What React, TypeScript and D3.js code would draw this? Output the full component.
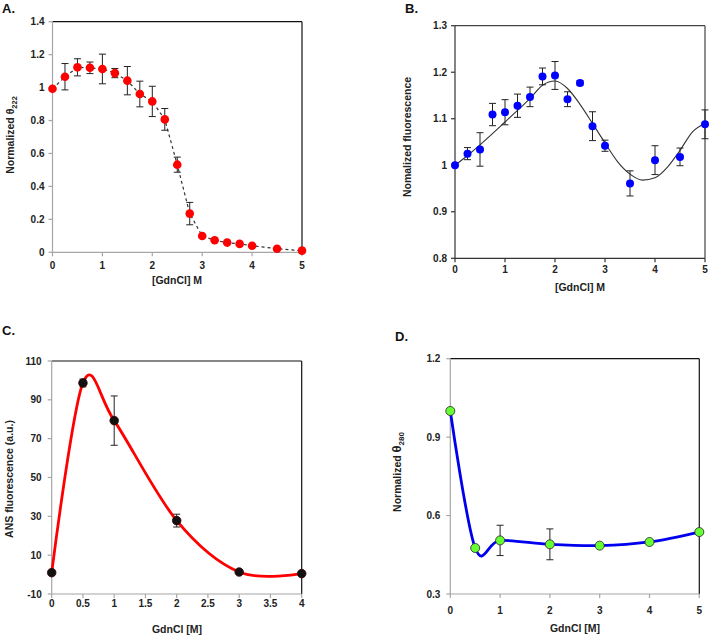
import React from "react";
import * as d3 from "d3";

// ---------- Panel A: CD ellipticity at 222 nm ----------
const concA = [0, 0.25, 0.5, 0.75, 1, 1.25, 1.5, 1.75, 2, 2.25, 2.5, 2.75, 3, 3.25, 3.5, 3.75, 4, 4.5, 5];
const thetaA = [0.993, 1.066, 1.123, 1.12, 1.113, 1.088, 1.042, 0.961, 0.916, 0.807, 0.532, 0.235, 0.099, 0.073, 0.059, 0.051, 0.04, 0.022, 0.01];
const errA = [0, 0.08, 0.052, 0.035, 0.09, 0.028, 0.086, 0.078, 0.092, 0.066, 0.046, 0.068, 0, 0, 0, 0, 0, 0, 0];
const yTicksA = [0, 0.2, 0.4, 0.6, 0.8, 1, 1.2, 1.4];
const xTicksA = [0, 1, 2, 3, 4, 5];

// ---------- Panel B: intrinsic fluorescence ----------
const concB = [0, 0.25, 0.5, 0.75, 1, 1.25, 1.5, 1.75, 2, 2.25, 2.5, 2.75, 3, 3.5, 4, 4.5, 5];
const fluorB = [1.0, 1.025, 1.034, 1.109, 1.114, 1.128, 1.147, 1.191, 1.193, 1.142, 1.177, 1.084, 1.042, 0.961, 1.011, 1.018, 1.088];
const errB = [0, 0.013, 0.036, 0.024, 0.027, 0.025, 0.021, 0.018, 0.03, 0.016, 0.005, 0.031, 0.012, 0.027, 0.031, 0.019, 0.031];
const fitConcB = [0, 0.25, 0.5, 0.75, 1, 1.25, 1.5, 1.75, 2, 2.25, 2.5, 2.75, 3, 3.25, 3.5, 3.75, 4, 4.25, 4.5, 4.75, 5];
const fitB = [1.0, 1.021, 1.044, 1.068, 1.093, 1.118, 1.143, 1.172, 1.181, 1.165, 1.131, 1.09, 1.048, 1.008, 0.981, 0.968, 0.973, 0.996, 1.032, 1.072, 1.09];
const yTicksB = [0.8, 0.9, 1, 1.1, 1.2, 1.3];
const xTicksB = [0, 1, 2, 3, 4, 5];

// ---------- Panel C: ANS fluorescence ----------
const concC = [0, 0.5, 1, 2, 3, 4];
const ansC = [1, 98.7, 79.3, 27.8, 1.3, 0.5];
const errC = [0, 2, 12.7, 3.3, 0, 0];
const yTicksC = [-10, 10, 30, 50, 70, 90, 110];
const xTicksC = [0, 0.5, 1, 1.5, 2, 2.5, 3, 3.5, 4];

// ---------- Panel D: near-UV CD at 280 nm ----------
const concD = [0, 0.5, 1, 2, 3, 4, 5];
const thetaD = [1.0, 0.476, 0.505, 0.49, 0.485, 0.499, 0.537];
const errD = [0, 0, 0.058, 0.059, 0, 0, 0];
const yTicksD = [0.3, 0.6, 0.9, 1.2];
const xTicksD = [0, 1, 2, 3, 4, 5];

const FONT = "'Liberation Sans', Arial, sans-serif";

type PanelProps = {
  x0: number; x1: number; y0: number; y1: number;
  xDomain: [number, number]; yDomain: [number, number];
  xTicks: number[]; yTicks: number[];
  axisColor: string; frameColor: string;
  yLabelGap: number; xLabelY: number;
  children?: (sx: d3.ScaleLinear<number, number>, sy: d3.ScaleLinear<number, number>) => React.ReactNode;
};

function Frame(p: PanelProps) {
  const sx = d3.scaleLinear().domain(p.xDomain).range([p.x0, p.x1]);
  const sy = d3.scaleLinear().domain(p.yDomain).range([p.y0, p.y1]);
  return (
    <g>
      <line x1={p.x0} x2={p.x1} y1={p.y1} y2={p.y1} stroke={p.frameColor} strokeWidth={1.2} />
      <line x1={p.x1} x2={p.x1} y1={p.y1} y2={p.y0} stroke={p.frameColor} strokeWidth={1.2} />
      <line x1={p.x0} x2={p.x0} y1={p.y1} y2={p.y0} stroke={p.axisColor} strokeWidth={1.2} />
      <line x1={p.x0} x2={p.x1} y1={p.y0} y2={p.y0} stroke={p.axisColor} strokeWidth={1.2} />
      {p.yTicks.map((t) => (
        <g key={"y" + t}>
          <line x1={p.x0 - 4} x2={p.x0} y1={sy(t)} y2={sy(t)} stroke={p.axisColor} strokeWidth={1.2} />
          <text x={p.x0 - p.yLabelGap} y={sy(t)} dy="0.35em" textAnchor="end"
            fontFamily={FONT} fontWeight="bold" fontSize={10} fill="#222">{String(t)}</text>
        </g>
      ))}
      {p.xTicks.map((t) => (
        <g key={"x" + t}>
          <line x1={sx(t)} x2={sx(t)} y1={p.y0} y2={p.y0 + 4} stroke={p.axisColor} strokeWidth={1.2} />
          <text x={sx(t)} y={p.xLabelY} textAnchor="middle"
            fontFamily={FONT} fontWeight="bold" fontSize={10} fill="#222">{String(t)}</text>
        </g>
      ))}
      {p.children && p.children(sx, sy)}
    </g>
  );
}

function ErrorBars({ xs, ys, es, sx, sy, cap }: any) {
  return (
    <g>
      {xs.map((x: number, i: number) => es[i] > 0 ? (
        <g key={i} stroke="#222" strokeWidth={1}>
          <line x1={sx(x)} x2={sx(x)} y1={sy(ys[i] - es[i])} y2={sy(ys[i] + es[i])} />
          <line x1={sx(x) - cap} x2={sx(x) + cap} y1={sy(ys[i] - es[i])} y2={sy(ys[i] - es[i])} />
          <line x1={sx(x) - cap} x2={sx(x) + cap} y1={sy(ys[i] + es[i])} y2={sy(ys[i] + es[i])} />
        </g>
      ) : null)}
    </g>
  );
}

export default function App() {
  return (
    <svg width={710} height={637} style={{ position: "absolute", left: 0, top: 0, background: "#fff" }}>
      <rect width={710} height={637} fill="#fff" />

      {/* ---------- A ---------- */}
      <text x={2} y={13} fontFamily={FONT} fontWeight="bold" fontSize={13} fill="#111">A.</text>
      <Frame x0={52.5} x1={302} y0={252.3} y1={21.7} xDomain={[0, 5]} yDomain={[0, 1.4]}
        xTicks={xTicksA} yTicks={yTicksA} axisColor="#a6a6a6" frameColor="#111" yLabelGap={8} xLabelY={268.5}>
        {(sx, sy) => {
          const line = d3.line<number>().x((d, i) => sx(concA[i])).y((d) => sy(d));
          return (
            <g>
              <path d={line(thetaA) || ""} fill="none" stroke="#333" strokeWidth={1.2} strokeDasharray="3,3" />
              <ErrorBars xs={concA} ys={thetaA} es={errA} sx={sx} sy={sy} cap={3.5} />
              {concA.map((x, i) => <circle key={i} cx={sx(x)} cy={sy(thetaA[i])} r={4.3} fill="#ff0000" />)}
            </g>
          );
        }}
      </Frame>
      <text transform="translate(14,135) rotate(-90)" textAnchor="middle" fontFamily={FONT} fontWeight="bold" fontSize={10.5} fill="#222">
        Normalized θ<tspan fontSize={7.5} dy={3}>222</tspan>
      </text>
      <text x={177} y={284} textAnchor="middle" fontFamily={FONT} fontWeight="bold" fontSize={10.5} fill="#222">[GdnCl] M</text>

      {/* ---------- B ---------- */}
      <text x={405} y={13} fontFamily={FONT} fontWeight="bold" fontSize={13} fill="#111">B.</text>
      <Frame x0={455} x1={705} y0={258.3} y1={25.7} xDomain={[0, 5]} yDomain={[0.8, 1.3]}
        xTicks={xTicksB} yTicks={yTicksB} axisColor="#333" frameColor="#444" yLabelGap={8} xLabelY={272.5}>
        {(sx, sy) => {
          const line = d3.line<number>().x((d, i) => sx(fitConcB[i])).y((d) => sy(d)).curve(d3.curveMonotoneX);
          return (
            <g>
              <path d={line(fitB) || ""} fill="none" stroke="#333" strokeWidth={1.1} />
              <ErrorBars xs={concB} ys={fluorB} es={errB} sx={sx} sy={sy} cap={3.5} />
              {concB.map((x, i) => <circle key={i} cx={sx(x)} cy={sy(fluorB[i])} r={4} fill="#0000ff" />)}
            </g>
          );
        }}
      </Frame>
      <text transform="translate(411,137) rotate(-90)" textAnchor="middle" fontFamily={FONT} fontWeight="bold" fontSize={10.5} fill="#222">Nomalized fluorescence</text>
      <text x={580} y={291} textAnchor="middle" fontFamily={FONT} fontWeight="bold" fontSize={10.5} fill="#222">[GdnCl] M</text>

      {/* ---------- C ---------- */}
      <text x={2} y={335} fontFamily={FONT} fontWeight="bold" fontSize={13} fill="#111">C.</text>
      <Frame x0={51.7} x1={301.7} y0={594} y1={361} xDomain={[0, 4]} yDomain={[-10, 110]}
        xTicks={xTicksC} yTicks={yTicksC} axisColor="#a6a6a6" frameColor="#111" yLabelGap={10} xLabelY={607}>
        {(sx, sy) => {
          const line = d3.line<number>().x((d, i) => sx(concC[i])).y((d) => sy(d)).curve(d3.curveCardinal.tension(0));
          return (
            <g>
              <path d={line(ansC) || ""} fill="none" stroke="#ff0000" strokeWidth={2.8} />
              <ErrorBars xs={concC} ys={ansC} es={errC} sx={sx} sy={sy} cap={3.5} />
              {concC.map((x, i) => <circle key={i} cx={sx(x)} cy={sy(ansC[i])} r={4.3} fill="#111" stroke="#3a0000" strokeWidth={0.8} />)}
            </g>
          );
        }}
      </Frame>
      <text transform="translate(13,479) rotate(-90)" textAnchor="middle" fontFamily={FONT} fontWeight="bold" fontSize={10.5} fill="#222">ANS fluorescence (a.u.)</text>
      <text x={177} y={633} textAnchor="middle" fontFamily={FONT} fontWeight="bold" fontSize={10.5} fill="#222">GdnCl [M]</text>

      {/* ---------- D ---------- */}
      <text x={395} y={341} fontFamily={FONT} fontWeight="bold" fontSize={13} fill="#111">D.</text>
      <Frame x0={450.3} x1={699.3} y0={594} y1={358.7} xDomain={[0, 5]} yDomain={[0.3, 1.2]}
        xTicks={xTicksD} yTicks={yTicksD} axisColor="#a6a6a6" frameColor="#111" yLabelGap={10} xLabelY={614}>
        {(sx, sy) => {
          const line = d3.line<number>().x((d, i) => sx(concD[i])).y((d) => sy(d)).curve(d3.curveCardinal.tension(0));
          return (
            <g>
              <path d={line(thetaD) || ""} fill="none" stroke="#0000ee" strokeWidth={2.8} />
              <ErrorBars xs={concD} ys={thetaD} es={errD} sx={sx} sy={sy} cap={3.5} />
              {concD.map((x, i) => <circle key={i} cx={sx(x)} cy={sy(thetaD[i])} r={4.5} fill="#66ff33" stroke="#333" strokeWidth={0.9} />)}
            </g>
          );
        }}
      </Frame>
      <text transform="translate(401,472) rotate(-90)" textAnchor="middle" fontFamily={FONT} fontWeight="bold" fontSize={10.5} fill="#222">
        Normalized <tspan fontSize={13}>θ</tspan><tspan fontSize={8} dy={3}>280</tspan>
      </text>
      <text x={575} y={632} textAnchor="middle" fontFamily={FONT} fontWeight="bold" fontSize={10.5} fill="#222">GdnCl [M]</text>
    </svg>
  );
}
